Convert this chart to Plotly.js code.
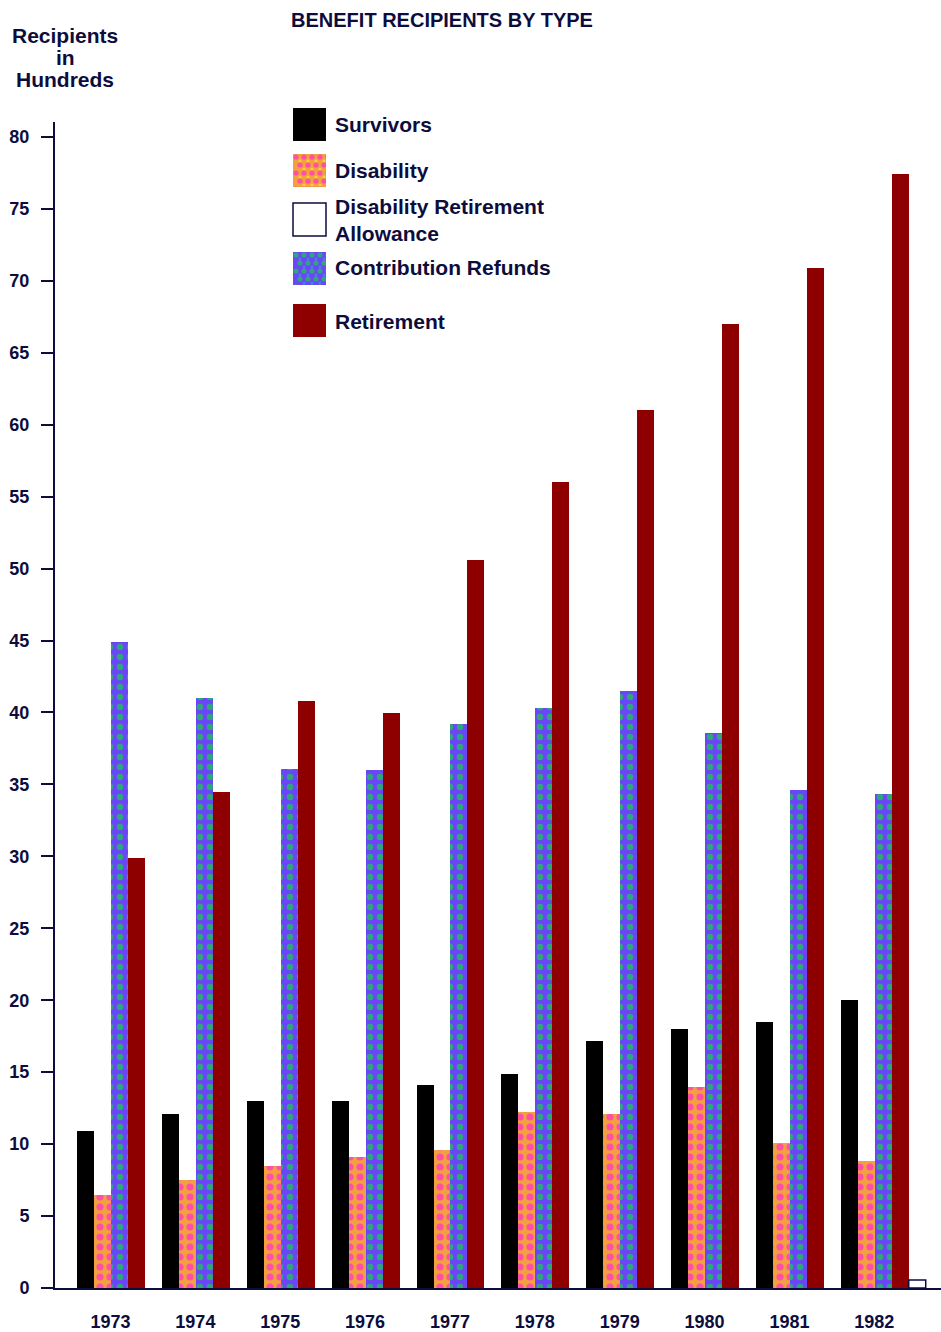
<!DOCTYPE html>
<html>
<head>
<meta charset="utf-8">
<script src="https://cdn.plot.ly/plotly-3.0.1.min.js"></script>
<style>
  body { margin: 0; background: #ffffff; }
  #chart { width: 941px; height: 1332px; }
</style>
</head>
<body>
<div id="chart"></div>
<script>
// ---- Data (recipients in hundreds) ----
const years = ['1973', '1974', '1975', '1976', '1977', '1978', '1979', '1980', '1981', '1982'];
const survivors = [10.9, 12.1, 13.0, 13.0, 14.1, 14.9, 17.2, 18.0, 18.5, 20.0];
const disability = [6.45, 7.5, 8.5, 9.1, 9.6, 12.2, 12.1, 14.0, 10.1, 8.8];
const contributionRefunds = [44.9, 41.0, 36.1, 36.0, 39.2, 40.3, 41.5, 38.6, 34.6, 34.3];
const retirement = [29.9, 34.5, 40.8, 39.95, 50.6, 56.0, 61.0, 67.0, 70.9, 77.4];
const disabilityRetirementAllowance = [null, null, null, null, null, null, null, null, null, 0.55];
const yTickValues = [0, 5, 10, 15, 20, 25, 30, 35, 40, 45, 50, 55, 60, 65, 70, 75, 80];

const seriesNames = ['Survivors', 'Disability', 'Disability Retirement Allowance', 'Contribution Refunds', 'Retirement'];

// ---- Styling ----
const W = 941, H = 1332;
const M = { l: 55, r: 0, t: 122, b: 44 };
const navy = '#0d0d3d';
const FONT = 'Liberation Sans, Arial, Helvetica, sans-serif';

const disabilityPattern = { shape: '.', bgcolor: '#f2a040', fgcolor: '#ff4fa6', size: 10, solidity: 0.4 };
const refundsPattern = { shape: '.', bgcolor: '#6a46f7', fgcolor: '#2fa57c', size: 10, solidity: 0.33 };

const traces = [
  { type: 'bar', name: seriesNames[0], x: years, y: survivors,
    marker: { color: '#000000', line: { width: 0 } } },
  { type: 'bar', name: seriesNames[1], x: years, y: disability,
    marker: { color: '#f2a040', pattern: disabilityPattern, line: { width: 0 } } },
  { type: 'bar', name: seriesNames[3], x: years, y: contributionRefunds,
    marker: { color: '#6a46f7', pattern: refundsPattern, line: { width: 0 } } },
  { type: 'bar', name: seriesNames[4], x: years, y: retirement,
    marker: { color: '#8e0000', line: { width: 0 } } },
  { type: 'bar', name: seriesNames[2], x: years, y: disabilityRetirementAllowance,
    marker: { color: '#ffffff', line: { width: 1.5, color: navy } } }
];

// helpers: pixel -> paper coordinates
const plotW = W - M.l - M.r, plotH = H - M.t - M.b;
const px = v => (v - M.l) / plotW;
const py = v => (H - M.b - v) / plotH;

function dotsSVG(bg, fg, fg2) {
  let s = `<svg xmlns="http://www.w3.org/2000/svg" width="33" height="33"><rect width="33" height="33" fill="${bg}"/>`;
  for (let r = 0; r < 5; r++) {
    for (let c = 0; c < 5; c++) {
      const cx = 3 + c * 8 + (r % 2) * 4, cy = 3 + r * 8;
      s += `<circle cx="${cx}" cy="${cy}" r="2.6" fill="${fg}"/>`;
      if (fg2) s += `<circle cx="${cx + 4}" cy="${cy + 4}" r="1.6" fill="${fg2}"/>`;
    }
  }
  s += '</svg>';
  return 'data:image/svg+xml;charset=utf-8,' + encodeURIComponent(s);
}

// legend (swatch tops in px, label positions)
const legendX = 293, swatch = 33;
const legendItems = [
  { name: seriesNames[0], top: 108, textY: 125, kind: 'solid', fill: '#000000' },
  { name: seriesNames[1], top: 154, textY: 170, kind: 'image', src: dotsSVG('#f2a040', '#ff4fa6', '#f6d22e') },
  { name: 'Disability Retirement<br>Allowance', top: 203, textY: 220, kind: 'outline' },
  { name: seriesNames[3], top: 252, textY: 268, kind: 'image', src: dotsSVG('#6a46f7', '#2fa57c', '#4a7cf0') },
  { name: seriesNames[4], top: 304, textY: 321, kind: 'solid', fill: '#8e0000' }
];

const shapes = [], images = [], annotations = [];
legendItems.forEach(it => {
  if (it.kind === 'image') {
    images.push({ source: it.src, xref: 'paper', yref: 'paper', x: px(legendX), y: py(it.top),
      sizex: swatch / plotW, sizey: swatch / plotH, xanchor: 'left', yanchor: 'top',
      sizing: 'stretch', layer: 'above' });
  } else {
    shapes.push({ type: 'rect', xref: 'paper', yref: 'paper',
      x0: px(legendX), x1: px(legendX + swatch), y0: py(it.top), y1: py(it.top + swatch),
      fillcolor: it.kind === 'outline' ? '#ffffff' : it.fill,
      line: { width: it.kind === 'outline' ? 1.5 : 0, color: navy } });
  }
  annotations.push({ text: it.name, xref: 'paper', yref: 'paper', x: px(333), y: py(it.textY),
    xanchor: 'left', yanchor: 'middle', align: 'left', showarrow: false,
    font: { family: FONT, size: 21, color: navy, weight: 700 } });
});

// y-axis caption at top-left
[['Recipients', 35], ['in', 57], ['Hundreds', 79]].forEach(([t, y]) => {
  annotations.push({ text: t, xref: 'paper', yref: 'paper', x: px(65), y: py(y),
    xanchor: 'center', yanchor: 'middle', showarrow: false,
    font: { family: FONT, size: 21, color: navy, weight: 700 } });
});

const layout = {
  width: W, height: H,
  margin: M,
  paper_bgcolor: '#ffffff', plot_bgcolor: '#ffffff',
  showlegend: false,
  barmode: 'group', bargap: 0, bargroupgap: 0,
  title: { text: 'BENEFIT RECIPIENTS BY TYPE', x: 442 / W, xanchor: 'center',
    y: 1 - 20 / H, yanchor: 'middle', yref: 'container',
    font: { family: FONT, size: 20, color: navy, weight: 700 } },
  xaxis: {
    type: 'category', range: [-0.76, 9.68],
    showline: true, linecolor: navy, linewidth: 2,
    showgrid: false, zeroline: false,
    ticks: 'outside', ticklen: 16, tickcolor: 'rgba(0,0,0,0)',
    ticklabelshift: -9,
    tickfont: { family: FONT, size: 18, color: navy, weight: 700 },
    fixedrange: true
  },
  yaxis: {
    range: [0, 81.04],
    tickvals: yTickValues,
    showline: true, linecolor: navy, linewidth: 2,
    showgrid: false, zeroline: false,
    ticks: 'outside', ticklen: 12, tickwidth: 2, tickcolor: navy,
    ticklabelstandoff: 8,
    tickfont: { family: FONT, size: 18, color: navy, weight: 700 },
    fixedrange: true
  },
  shapes, images, annotations
};

Plotly.newPlot('chart', traces, layout, { displayModeBar: false, staticPlot: true });
</script>
</body>
</html>
